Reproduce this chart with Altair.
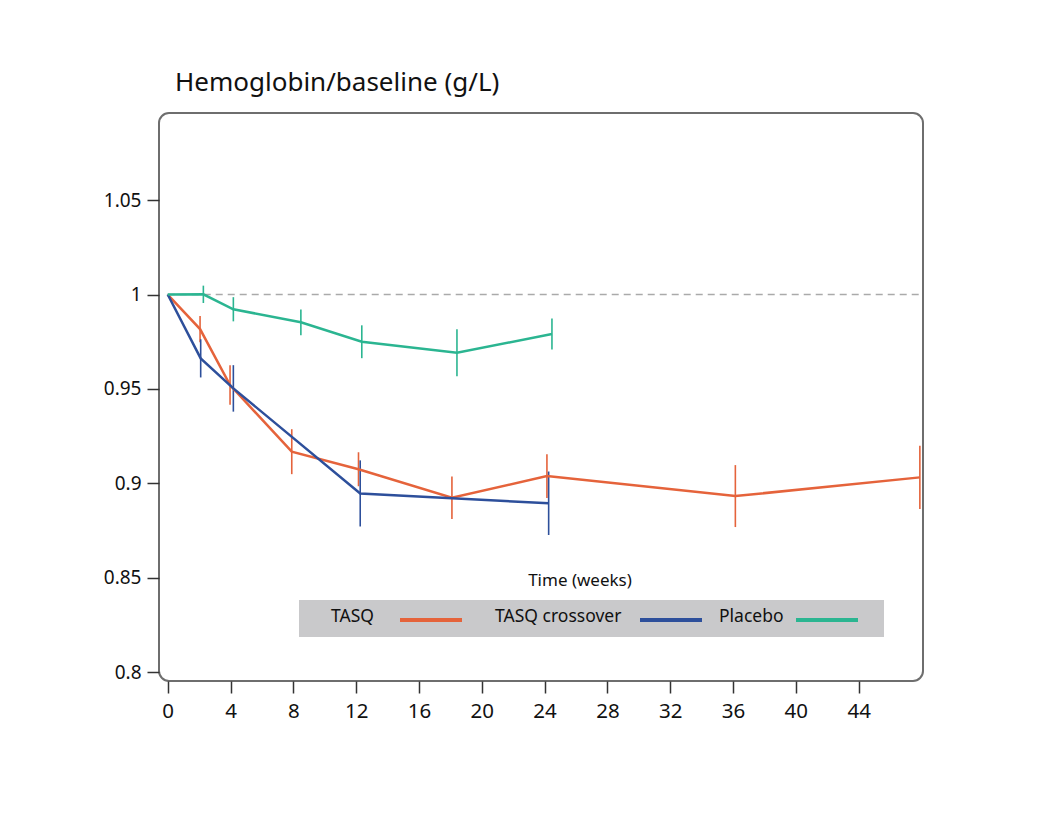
import altair as alt
import pandas as pd

# ---- data ----
series_names = ["TASQ", "TASQ crossover", "Placebo"]
series_colors = ["#e5633b", "#2d4f9b", "#2bb591"]

tasq_weeks = [0, 2.06, 3.97, 7.9, 12.15, 18.1, 24.15, 36.15, 47.9]
tasq_vals = [1.0, 0.9817, 0.9521, 0.9168, 0.9075, 0.8924, 0.9039, 0.8933, 0.9032]
tasq_err = [0.0, 0.0069, 0.0104, 0.0119, 0.0090, 0.0113, 0.0116, 0.0164, 0.0168]

cross_weeks = [0, 2.1, 4.18, 12.26, 24.26]
cross_vals = [1.0, 0.9662, 0.9503, 0.8947, 0.8895]
cross_err = [0.0, 0.0101, 0.0123, 0.0175, 0.0168]

plac_weeks = [0, 2.27, 4.18, 8.48, 12.36, 18.42, 24.47]
plac_vals = [1.0, 1.0001, 0.9922, 0.9853, 0.9750, 0.9692, 0.9791]
plac_err = [0.0, 0.0046, 0.0064, 0.0068, 0.0087, 0.0124, 0.0082]

x_ticks = [0, 4, 8, 12, 16, 20, 24, 28, 32, 36, 40, 44]
y_ticks = [0.8, 0.85, 0.9, 0.95, 1.0, 1.05]

title_text = "Hemoglobin/baseline (g/L)"
x_title = "Time (weeks)"

# ---- build table ----
rows = []
for name, ws, vs, es in [
    (series_names[0], tasq_weeks, tasq_vals, tasq_err),
    (series_names[1], cross_weeks, cross_vals, cross_err),
    (series_names[2], plac_weeks, plac_vals, plac_err),
]:
    for i, (w, v, e) in enumerate(zip(ws, vs, es)):
        rows.append({"series": name, "week": w, "value": v,
                     "lo": v - e, "hi": v + e, "order": i})
df = pd.DataFrame(rows)
df_err = df[df["hi"] > df["lo"]]

W, H = 764, 568
FONT = "Noto Sans"

x_scale = alt.Scale(domain=[-0.555, 48.1], nice=False, zero=False)
y_scale = alt.Scale(domain=[0.7954, 1.0961], nice=False, zero=False)
color_scale = alt.Scale(domain=series_names, range=series_colors)

x_axis = alt.Axis(values=x_ticks, title=None, domain=False, grid=False,
                  tickSize=12, tickWidth=1.5, tickColor="#333333",
                  labelFontSize=20.5, labelPadding=8, labelColor="#111111",
                  labelFont=FONT)
y_axis = alt.Axis(values=y_ticks, title=None, domain=False, grid=False,
                  tickSize=12, tickWidth=1.5, tickColor="#333333",
                  labelFontSize=19, labelPadding=6, labelColor="#111111",
                  labelFont=FONT, labelExpr="'' + datum.value")

base = alt.Chart(df)

ref = alt.Chart(pd.DataFrame({"y": [1.0], "x": [0.0]})).mark_rule(
    color="#aaaaaa", strokeWidth=1.5, strokeDash=[7, 5]
).encode(
    y=alt.Y("y:Q", scale=y_scale, axis=y_axis),
    x=alt.X("x:Q", scale=x_scale, axis=x_axis),
    x2=alt.value(W),
)

errbars = alt.Chart(df_err).mark_rule(strokeWidth=1.6).encode(
    x=alt.X("week:Q", scale=x_scale),
    y=alt.Y("lo:Q", scale=y_scale),
    y2="hi:Q",
    color=alt.Color("series:N", scale=color_scale, legend=None),
)

lines = base.mark_line(strokeWidth=2.5).encode(
    x=alt.X("week:Q", scale=x_scale),
    y=alt.Y("value:Q", scale=y_scale),
    color=alt.Color("series:N", scale=color_scale, legend=None),
    order="order:Q",
)

one = pd.DataFrame({"a": [0]})

title_mark = alt.Chart(one).mark_text(
    text=title_text, align="left", baseline="alphabetic",
    fontSize=26, font=FONT, color="#111111"
).encode(x=alt.value(16), y=alt.value(-22))

xtitle_mark = alt.Chart(one).mark_text(
    text=x_title, align="center", baseline="middle",
    fontSize=17, font=FONT, color="#111111"
).encode(x=alt.value(421), y=alt.value(468))

legend_box = alt.Chart(one).mark_rect(color="#c9c9cb").encode(
    x=alt.value(140), x2=alt.value(725), y=alt.value(487), y2=alt.value(524)
)

label_x = [172, 336, 560]
line_x = [(241, 303), (481, 543), (637, 699)]
legend_layers = [legend_box]
for name, col, lx, (l1, l2) in zip(series_names, series_colors, label_x, line_x):
    legend_layers.append(
        alt.Chart(one).mark_text(
            text=name, align="left", baseline="middle",
            fontSize=17.5, font=FONT, color="#111111"
        ).encode(x=alt.value(lx), y=alt.value(504))
    )
    legend_layers.append(
        alt.Chart(one).mark_rule(color=col, strokeWidth=4).encode(
            x=alt.value(l1), x2=alt.value(l2), y=alt.value(507)
        )
    )

chart = alt.layer(
    ref, errbars, lines, title_mark, xtitle_mark, *legend_layers
).properties(
    width=W, height=H,
    autosize=alt.AutoSizeParams(type="none"),
    padding={"left": 151, "top": 105, "right": 118, "bottom": 127},
    background="white",
).configure_view(
    stroke="#6e6e6e", strokeWidth=2, cornerRadius=10
)

chart.save("out.html", embed_options={"renderer": "svg", "actions": False})
